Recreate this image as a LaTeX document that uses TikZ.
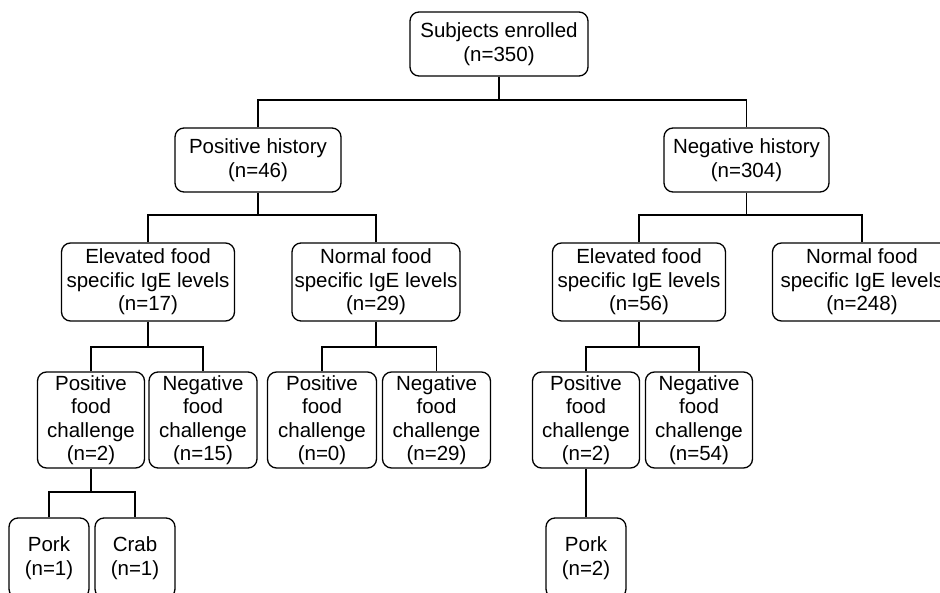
\documentclass[tikz,border=0pt]{standalone}
\usepackage{fontspec}
\setmainfont{Liberation Sans}
\usetikzlibrary{positioning}

\begin{document}
\begin{tikzpicture}[
  x=1pt, y=-1pt,
  font=\fontsize{20.5}{23.5}\selectfont,
  block/.style={draw, line width=1.3pt, rounded corners=9pt,
                inner sep=0pt, align=center},
  rowtwo/.style={block, minimum height=64pt},
  rowthree/.style={block, minimum height=78pt},
  rowfour/.style={block, minimum height=96pt},
  rowfive/.style={block, minimum height=80pt, minimum width=80pt},
  link/.style={line width=1.3pt},
]
\useasboundingbox (0,0) rectangle (940,593);
\clip (0,0) rectangle (940,593);

% Top of the tree
\node[rowtwo, minimum width=178pt] (enrolled) at (499,44) {Subjects enrolled\\(n=350)};

% History split
\node[rowtwo, minimum width=166pt] (poshist) at (258,160)   {Positive history\\(n=46)};
\node[rowtwo, minimum width=165pt] (neghist) at (746.5,160) {Negative history\\(n=304)};

% IgE levels
\node[rowthree, minimum width=173pt] (eleL)  at (148,282) {Elevated food\\specific IgE levels\\(n=17)};
\node[rowthree, minimum width=168pt] (normL) at (376,282) {Normal food\\specific IgE levels\\(n=29)};
\node[rowthree, minimum width=173pt] (eleR)  at (639,282) {Elevated food\\specific IgE levels\\(n=56)};
\node[rowthree, minimum width=179pt] (normR) at (862,282) {Normal food\\specific IgE levels\\(n=248)};

% Food challenges
\node[rowfour, minimum width=107pt] (posL) at (91,420)    {Positive\\food\\challenge\\(n=2)};
\node[rowfour, minimum width=108pt] (negL) at (203,420)   {Negative\\food\\challenge\\(n=15)};
\node[rowfour, minimum width=109pt] (posM) at (322,420)   {Positive\\food\\challenge\\(n=0)};
\node[rowfour, minimum width=108pt] (negM) at (436.5,420) {Negative\\food\\challenge\\(n=29)};
\node[rowfour, minimum width=107pt] (posR) at (586,420)   {Positive\\food\\challenge\\(n=2)};
\node[rowfour, minimum width=107pt] (negR) at (699,420)   {Negative\\food\\challenge\\(n=54)};

% Foods
\node[rowfive] (porkL) at (49,558)  {Pork\\(n=1)};
\node[rowfive] (crabL) at (135,558) {Crab\\(n=1)};
\node[rowfive] (porkR) at (586,558) {Pork\\(n=2)};

% Split points
\coordinate (splitA)  at (499,100);
\coordinate (splitBL) at (258,215);
\coordinate (splitBR) at (746.5,215);
\coordinate (splitCL) at (148,347);
\coordinate (splitCM) at (376,347);
\coordinate (splitCR) at (639,347);
\coordinate (splitDL) at (91,492);

% Connectors
\draw[link] (enrolled.south) -- (splitA);
\draw[link] (poshist.north) |- (splitA) -| (neghist.north);

\draw[link] (poshist.south) -- (splitBL);
\draw[link] (eleL.north) |- (splitBL) -| (normL.north);
\draw[link] (neghist.south) -- (splitBR);
\draw[link] (eleR.north) |- (splitBR) -| (normR.north);

\draw[link] (eleL.south) -- (splitCL);
\draw[link] (posL.north) |- (splitCL) -| (negL.north);
\draw[link] (normL.south) -- (splitCM);
\draw[link] (posM.north) |- (splitCM) -| (negM.north);
\draw[link] (eleR.south) -- (splitCR);
\draw[link] (posR.north) |- (splitCR) -| (negR.north);

\draw[link] (posL.south) -- (splitDL);
\draw[link] (porkL.north) |- (splitDL) -| (crabL.north);
\draw[link] (posR.south) -- (porkR.north);

\end{tikzpicture}
\end{document}
